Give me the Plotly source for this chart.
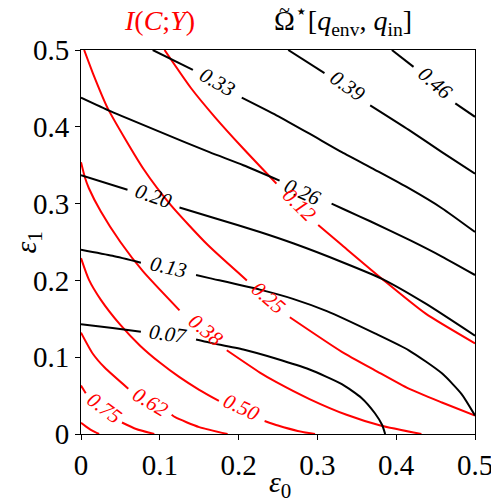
import plotly.graph_objects as go

# ---- data (None = gap left for the contour label) ----
# black contours: Omega~*[q_env, q_in]
black_levels = ["0.07", "0.13", "0.20", "0.26", "0.33", "0.39", "0.46"]
black_x = [
    [0, 0.040, 0.076, None, 0.146, 0.163, 0.206, 0.248, 0.290, 0.331, 0.356, 0.373, 0.382, 0.386],
    [0, 0.040, 0.076, None, 0.146, 0.163, 0.227, 0.269, 0.312, 0.373, 0.416, 0.458, 0.483, 0.5],
    [0, 0.059, None, 0.125, 0.170, 0.227, 0.270, 0.331, 0.382, 0.437, 0.5],
    [0, 0.038, 0.101, 0.163, 0.206, 0.252, None, 0.318, 0.337, 0.367, 0.418, 0.458, 0.5],
    [0.091, 0.142, None, 0.204, 0.248, 0.290, 0.331, 0.373, 0.416, 0.458, 0.5],
    [0.263, 0.309, None, 0.367, 0.416, 0.458, 0.5],
    [0.3945, 0.422, None, 0.475, 0.5],
]
black_y = [
    [0.143, 0.138, 0.133, None, 0.123, 0.119, 0.110, 0.098, 0.084, 0.065, 0.047, 0.027, 0.012, 0.0],
    [0.240, 0.232, 0.223, None, 0.207, 0.203, 0.188, 0.176, 0.160, 0.131, 0.109, 0.079, 0.052, 0.024],
    [0.337, 0.318, None, 0.295, 0.281, 0.263, 0.248, 0.224, 0.202, 0.170, 0.128],
    [0.438, 0.420, 0.393, 0.367, 0.350, 0.330, None, 0.300, 0.291, 0.277, 0.252, 0.231, 0.207],
    [0.5, 0.474, None, 0.438, 0.415, 0.391, 0.367, 0.344, 0.320, 0.294, 0.263],
    [0.5, 0.470, None, 0.428, 0.396, 0.367, 0.339],
    [0.5, 0.478, None, 0.4305, 0.413],
]
black_label_x = [0.111, 0.111, 0.092, 0.2815, 0.173, 0.3386, 0.4498]
black_label_y = [0.1306, 0.2175, 0.3096, 0.3149, 0.4583, 0.4531, 0.4576]
black_label_angle = [8, 13, 19, 24, 30, 35, 41]

# red contours: I(C;Y)  (last, innermost contour is unlabeled)
red_levels = ["0.12", "0.25", "0.38", "0.50", "0.62", "0.75"]
red_x = [
    [0.106, 0.1395, 0.1696, 0.2056, 0.248, None, 0.301, 0.331, 0.382, 0.437, 0.5],
    [0.004, 0.015, 0.034, 0.080, 0.114, 0.161, 0.2105, None, 0.265, 0.331, 0.373, 0.416, 0.458, 0.5],
    [0, 0.005, 0.010, 0.025, 0.050, 0.0785, 0.125, None, 0.185, 0.227, 0.248, 0.290, 0.337, 0.380, 0.432],
    [0, 0.010, 0.025, 0.050, 0.075, 0.100, 0.125, 0.150, 0.175, None, 0.233, 0.250, 0.275, 0.297],
    [0, 0.015, 0.030, 0.060, None, 0.115, 0.120, 0.150, 0.186],
    [0, 0.006, None, 0.052, 0.070, 0.093],
    [0, 0.006, 0.012, 0.018, 0.023],
]
red_y = [
    [0.5, 0.4505, 0.413, 0.372, 0.326, None, 0.272, 0.246, 0.202, 0.157, 0.118],
    [0.5, 0.47, 0.424, 0.344, 0.298, 0.246, 0.200, None, 0.152, 0.107, 0.083, 0.059, 0.041, 0.024],
    [0.354, 0.334, 0.320, 0.290, 0.250, 0.212, 0.161, None, 0.109, 0.080, 0.0675, 0.0455, 0.025, 0.011, 0.0],
    [0.229, 0.201, 0.175, 0.142, 0.115, 0.093, 0.074, 0.0575, 0.043, None, 0.017, 0.011, 0.004, 0.0],
    [0.132, 0.1045, 0.0865, 0.059, None, 0.025, 0.0215, 0.009, 0.0],
    [0.063, 0.053, None, 0.015, 0.0065, 0.0],
    [0.0145, 0.0100, 0.0058, 0.0024, 0.0],
]
red_label_x = [0.2776, 0.2383, 0.1582, 0.2033, 0.0883, 0.0299]
red_label_y = [0.2986, 0.1773, 0.1349, 0.0352, 0.0415, 0.0339]
red_label_angle = [45, 41, 40, 25, 31, 37]

x_ticks = [0, 0.1, 0.2, 0.3, 0.4, 0.5]
y_ticks = [0, 0.1, 0.2, 0.3, 0.4, 0.5]
tick_text = ["0", "0.1", "0.2", "0.3", "0.4", "0.5"]

FONT = "Liberation Serif, Times New Roman, serif"
RED = "#ff0000"

fig = go.Figure()
for xs, ys in zip(red_x, red_y):
    fig.add_trace(go.Scatter(x=xs, y=ys, mode="lines",
                             line=dict(color=RED, width=2, shape="spline", smoothing=0.6),
                             connectgaps=False, hoverinfo="skip", showlegend=False))
for xs, ys in zip(black_x, black_y):
    fig.add_trace(go.Scatter(x=xs, y=ys, mode="lines",
                             line=dict(color="black", width=2, shape="spline", smoothing=0.6),
                             connectgaps=False, hoverinfo="skip", showlegend=False))

ann = []
for t, x, y, a in zip(black_levels, black_label_x, black_label_y, black_label_angle):
    ann.append(dict(x=x, y=y, xref="x", yref="y", text="<i>%s</i>" % t, showarrow=False,
                    xanchor="center", yanchor="middle",
                    textangle=a, font=dict(family=FONT, size=21, color="black")))
for t, x, y, a in zip(red_levels, red_label_x, red_label_y, red_label_angle):
    ann.append(dict(x=x, y=y, xref="x", yref="y", text="<i>%s</i>" % t, showarrow=False,
                    xanchor="center", yanchor="middle",
                    textangle=a, font=dict(family=FONT, size=21, color=RED)))

# titles and axis labels
ann.append(dict(x=0.198, y=1.0756, xref="paper", yref="paper", showarrow=False,
                xanchor="center", yanchor="middle",
                text="<i>I</i>(<i>C</i>;<i>Y</i>)", font=dict(family=FONT, size=28, color=RED)))
ann.append(dict(x=0.665, y=1.0756, xref="paper", yref="paper", showarrow=False,
                xanchor="center", yanchor="middle",
                text="Ω<sup>⋆</sup>[<i>q</i><sub>env</sub>, <i>q</i><sub>in</sub>]",
                font=dict(family=FONT, size=28, color="black")))
ann.append(dict(x=0.517, y=1.104, xref="paper", yref="paper", showarrow=False,
                xanchor="center", yanchor="middle",
                text="~", font=dict(family=FONT, size=20, color="black")))
ann.append(dict(x=0.505, y=-0.13, xref="paper", yref="paper", showarrow=False,
                xanchor="center", yanchor="middle",
                text="<i>ε</i><sub>0</sub>", font=dict(family=FONT, size=30, color="black")))
ann.append(dict(x=-0.134, y=0.499, xref="paper", yref="paper", showarrow=False,
                xanchor="center", yanchor="middle", textangle=-90,
                text="<i>ε</i><sub>1</sub>", font=dict(family=FONT, size=30, color="black")))

axis_common = dict(range=[-1e-6, 0.500001], showgrid=False, zeroline=False, showline=True, mirror=True,
                   linecolor="black", linewidth=1, ticks="outside", ticklen=5, tickwidth=1,
                   tickcolor="black", ticklabeloverflow="allow", automargin=False,
                   tickfont=dict(family=FONT, size=29, color="black"))

fig.update_layout(
    width=491, height=502,
    margin=dict(l=81, r=16, t=50, b=68, autoexpand=False),
    paper_bgcolor="white", plot_bgcolor="white",
    xaxis=dict(tickvals=x_ticks, ticktext=tick_text, **axis_common),
    yaxis=dict(tickvals=y_ticks, ticktext=tick_text, **axis_common),
    annotations=ann,
)

fig.write_html("out.html")
